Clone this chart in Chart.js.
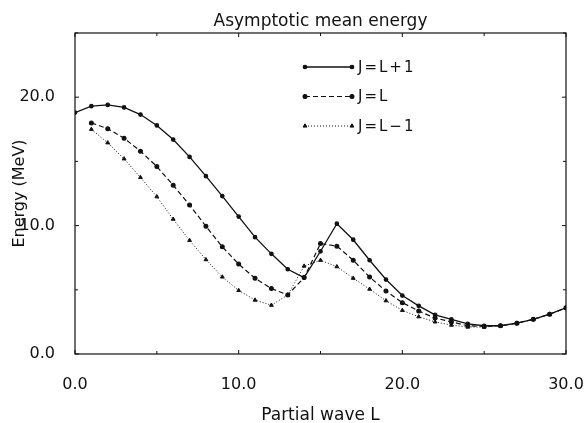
<!DOCTYPE html>
<html>
<head>
<meta charset="utf-8">
<script src="https://cdn.jsdelivr.net/npm/chart.js@4/dist/chart.umd.min.js"></script>
<style>
    body { margin: 0; background: #fff; }
    #wrap { width: 584px; height: 423px; }
</style>
</head>
<body>
<div id="wrap"><canvas id="energyChart" width="584" height="423"></canvas></div>
<script>
// Partial waves L = 0 .. 30
const partialWaves = Array.from({ length: 31 }, (_, i) => i);

// J = L+1 (solid), starts at L = 0
const energyPlus = [18.8, 19.3, 19.4, 19.2, 18.65, 17.8, 16.7, 15.35, 13.85, 12.3,
    10.7, 9.1, 7.8, 6.6, 5.95, 8.0, 10.15, 8.9, 7.3, 5.8,
    4.55, 3.75, 3.05, 2.7, 2.35, 2.2, 2.2, 2.4, 2.7, 3.1, 3.6];

// J = L (dashed), starts at L = 1
const energyEqual = [18.0, 17.55, 16.8, 15.8, 14.6, 13.15, 11.6, 9.95, 8.35,
    7.0, 5.9, 5.1, 4.6, 5.95, 8.6, 8.4, 7.3, 6.0, 4.9,
    4.0, 3.35, 2.8, 2.5, 2.2, 2.15, 2.2, 2.4, 2.7, 3.1, 3.6];

// J = L-1 (dotted), starts at L = 1
const energyMinus = [17.5, 16.45, 15.2, 13.75, 12.25, 10.5, 8.85, 7.35, 6.0,
    4.95, 4.2, 3.8, 4.6, 6.85, 7.3, 6.8, 5.9, 5.05, 4.15,
    3.4, 2.9, 2.5, 2.25, 2.1, 2.1, 2.2, 2.4, 2.7, 3.1, 3.6];

const legendLabels = ['J=L+1', 'J=L', 'J=L\u22121'];
const chartTitle = 'Asymptotic mean energy';
const xTitle = 'Partial wave L';
const yTitle = 'Energy (MeV)';
const xTickStep = 5;
const yTickStep = 5;

const ink = '#111';
const fontFamily = '"DejaVu Sans", "Liberation Sans", sans-serif';

// Pair an energy list with its partial waves
function toPoints(values, firstL) {
    return values.map((e, i) => ({ x: partialWaves[firstL + i], y: e }));
}

// Titles, frame, inward ticks and the legend box
const framePlugin = {
    id: 'frame',
    afterDatasetsDraw(chart) {
        const { ctx, chartArea: a, scales } = chart;
        const midX = (a.left + a.right) / 2;
        const midY = (a.top + a.bottom) / 2;
        ctx.save();
        ctx.fillStyle = ink;

        // title and axis titles
        ctx.textAlign = 'center';
        ctx.textBaseline = 'alphabetic';
        ctx.font = '17px ' + fontFamily;
        ctx.fillText(chartTitle, midX, 26);
        ctx.fillText(xTitle, midX, 420);
        ctx.save();
        ctx.translate(24, midY);
        ctx.rotate(-Math.PI / 2);
        ctx.font = '16px ' + fontFamily;
        ctx.fillText(yTitle, 0, 0);
        ctx.restore();

        ctx.strokeStyle = ink;
        ctx.lineWidth = 1.2;
        ctx.strokeRect(a.left, a.top, a.right - a.left, a.bottom - a.top);

        ctx.lineWidth = 1;
        scales.x.ticks.forEach(t => {
            const px = scales.x.getPixelForValue(t.value);
            const len = t.value % 10 === 0 ? 4 : 3;
            ctx.beginPath();
            ctx.moveTo(px, a.bottom); ctx.lineTo(px, a.bottom - len);
            ctx.moveTo(px, a.top); ctx.lineTo(px, a.top + len);
            ctx.stroke();
        });
        scales.y.ticks.forEach(t => {
            const py = scales.y.getPixelForValue(t.value);
            const len = t.value % 10 === 0 ? 4 : 3;
            ctx.beginPath();
            ctx.moveTo(a.left, py); ctx.lineTo(a.left + len, py);
            ctx.moveTo(a.right, py); ctx.lineTo(a.right - len, py);
            ctx.stroke();
        });

        // legend
        ctx.textAlign = 'left';
        ctx.textBaseline = 'middle';
        ctx.font = '15px ' + fontFamily;
        ctx.letterSpacing = '2px';
        chart.data.datasets.forEach((ds, i) => {
            const y = 67 + i * 29.5;
            const x0 = 305, x1 = 352;
            ctx.lineWidth = ds.borderWidth;
            ctx.setLineDash(ds.borderDash || []);
            ctx.beginPath();
            ctx.moveTo(x0, y); ctx.lineTo(x1, y);
            ctx.stroke();
            ctx.setLineDash([]);
            [x0, x1].forEach(x => {
                Chart.helpers.drawPoint(ctx, { pointStyle: ds.pointStyle, radius: ds.pointRadius, borderWidth: 1 }, x, y);
                ctx.fill();
            });
            ctx.fillText(ds.label, 358, y + 1);
        });
        ctx.restore();
    }
};

const ctx = document.getElementById('energyChart');
new Chart(ctx, {
    type: 'line',
    data: {
        datasets: [{
            label: legendLabels[0],
            data: toPoints(energyPlus, 0),
            borderColor: ink,
            backgroundColor: ink,
            borderWidth: 1.3,
            pointStyle: 'circle',
            pointRadius: 1.7,
            tension: 0
        }, {
            label: legendLabels[1],
            data: toPoints(energyEqual, 1),
            borderColor: ink,
            backgroundColor: ink,
            borderWidth: 1.2,
            borderDash: [5, 3],
            pointStyle: 'circle',
            pointRadius: 1.9,
            tension: 0
        }, {
            label: legendLabels[2],
            data: toPoints(energyMinus, 1),
            borderColor: ink,
            backgroundColor: ink,
            borderWidth: 1,
            borderDash: [1, 2],
            pointStyle: 'triangle',
            pointRadius: 2.2,
            tension: 0
        }]
    },
    options: {
        responsive: false,
        animation: false,
        layout: { padding: { left: 0, right: 18, top: 33, bottom: 0 } },
        plugins: {
            legend: { display: false },
            tooltip: { enabled: false },
            title: { display: false }
        },
        scales: {
            x: {
                type: 'linear',
                min: 0,
                max: 30,
                grid: { display: false },
                border: { display: false },
                ticks: {
                    stepSize: xTickStep,
                    padding: 13,
                    maxRotation: 0,
                    autoSkip: false,
                    color: ink,
                    font: { family: fontFamily, size: 16 },
                    callback: v => v % 10 === 0 ? v.toFixed(1) : ''
                },
                afterFit: scale => {
                    scale.height = 69;
                    scale.paddingLeft = 0;
                    scale.paddingRight = 0;
                }
            },
            y: {
                min: 0,
                max: 25,
                grid: { display: false },
                border: { display: false },
                ticks: {
                    stepSize: yTickStep,
                    padding: 12,
                    color: ink,
                    font: { family: fontFamily, size: 16 },
                    callback: v => v % 10 === 0 ? v.toFixed(1) : ''
                },
                afterFit: scale => {
                    scale.width = 75;
                    scale.paddingTop = 0;
                    scale.paddingBottom = 0;
                }
            }
        }
    },
    plugins: [framePlugin]
});
</script>
</body>
</html>
